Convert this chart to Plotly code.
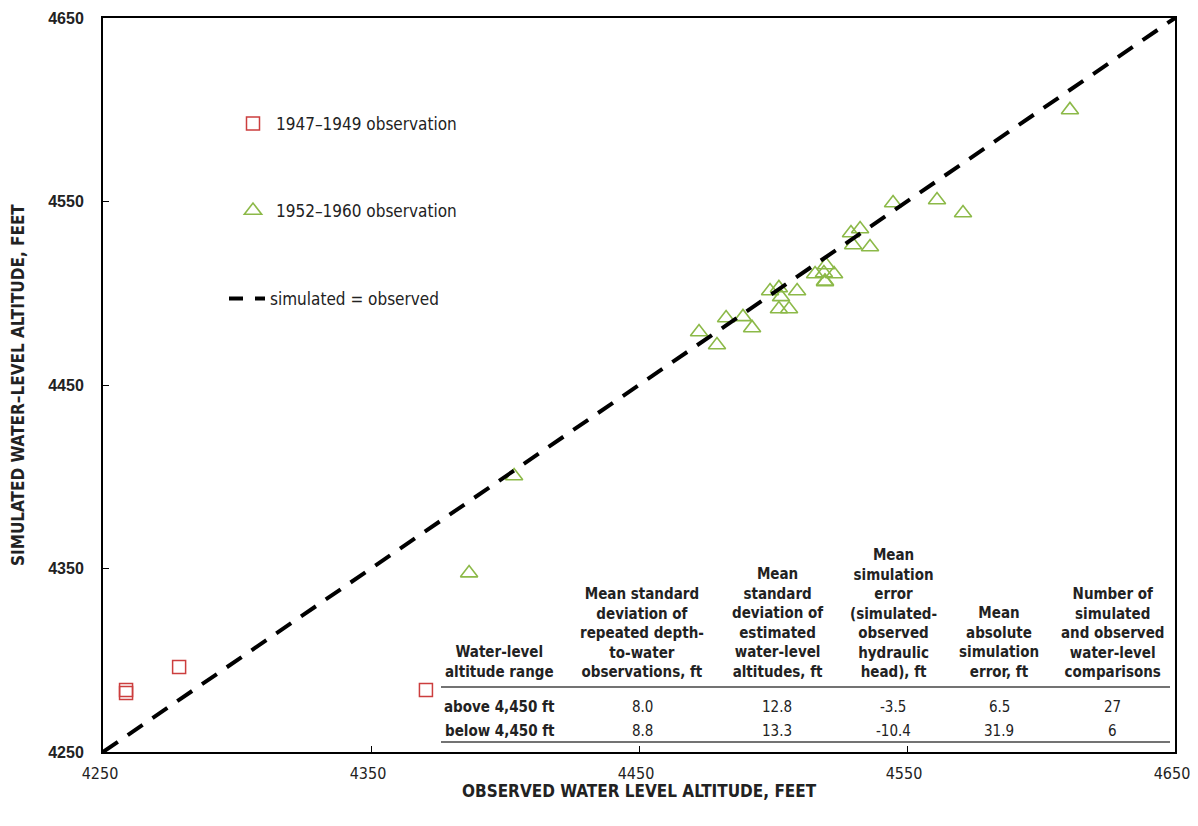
import plotly.graph_objects as go

# ---- data ----
obs_4749 = [4258.6, 4258.6, 4278.4, 4370.5]
sim_4749 = [4282.2, 4283.8, 4296.3, 4283.8]

obs_5260 = [4610.8, 4561.2, 4570.9, 4544.8, 4529.1, 4532.5, 4529.9, 4536.2,
            4519.8, 4515.7, 4519.0, 4522.8, 4519.4, 4498.9, 4502.2, 4503.0,
            4509.0, 4502.2, 4506.0, 4482.5, 4488.8, 4492.2, 4472.4, 4479.1,
            4403.4, 4386.6, 4519.4]
sim_5260 = [4599.9, 4550.8, 4543.7, 4549.2, 4532.8, 4535.0, 4526.3, 4525.2,
            4515.4, 4510.5, 4511.0, 4510.5, 4506.1, 4501.2, 4502.9, 4498.0,
            4501.2, 4491.4, 4491.4, 4486.5, 4487.1, 4481.1, 4478.9, 4471.8,
            4400.4, 4347.5, 4506.5]

one_to_one = [4250, 4650]
tick_vals = [4250, 4350, 4450, 4550, 4650]

table_headers = [
    "Water-level<br>altitude range",
    "Mean standard<br>deviation of<br>repeated depth-<br>to-water<br>observations, ft",
    "Mean<br>standard<br>deviation of<br>estimated<br>water-level<br>altitudes, ft",
    "Mean<br>simulation<br>error<br>(simulated-<br>observed<br>hydraulic<br>head), ft",
    "Mean<br>absolute<br>simulation<br>error, ft",
    "Number of<br>simulated<br>and observed<br>water-level<br>comparisons",
]
row_labels = ["above 4,450 ft", "below 4,450 ft"]
row_values = [["8.0", "12.8", "-3.5", "6.5", "27"],
              ["8.8", "13.3", "-10.4", "31.9", "6"]]

# ---- layout constants (pixels in the reference screenshot) ----
OFF = 8                      # the page body adds an 8px margin
W, H = 1198 - OFF, 826 - OFF
L, R, T, B = 103, 1175, 18, 752
NARROW = "Liberation Sans Narrow, Arial Narrow, DejaVu Sans Condensed, sans-serif"
ARIAL = "Liberation Sans, Arial, sans-serif"

def px(x):
    return (x - L) / (R - L)

def py(y):
    return (B - y) / (B - T)

RED = "rgb(204,62,62)"
GREEN = "rgb(140,185,72)"

fig = go.Figure()
fig.add_trace(go.Scatter(
    x=obs_4749, y=sim_4749, mode="markers", name="1947\u20131949 observation",
    marker=dict(symbol="square-open", size=13, color=RED, line=dict(width=1.5, color=RED)),
    legend="legend"))
fig.add_trace(go.Scatter(
    x=obs_5260, y=sim_5260, mode="markers", name="1952\u20131960 observation",
    marker=dict(symbol="triangle-up-open", size=15, color=GREEN, line=dict(width=1.6, color=GREEN)),
    legend="legend2"))
fig.add_trace(go.Scatter(
    x=one_to_one, y=one_to_one, mode="lines", name="simulated = observed",
    line=dict(color="black", width=4, dash="18px,12px"),
    showlegend=False))
# legend-only entry for the 1:1 line (shorter dash pattern, as in the key)
fig.add_trace(go.Scatter(
    x=[None], y=[None], mode="lines", name="simulated = observed",
    line=dict(color="black", width=4, dash="14px,12px"),
    legend="legend3"))

legend_common = dict(bgcolor="rgba(0,0,0,0)", borderwidth=0,
                     font=dict(family=NARROW, size=17, color="#222"),
                     xanchor="left", yanchor="middle", itemwidth=36)
annotations = []

# axis titles
annotations.append(dict(text="<b>OBSERVED WATER LEVEL ALTITUDE, FEET</b>", xref="paper", yref="paper",
                        x=px(639), y=py(791), showarrow=False,
                        font=dict(family=NARROW, size=17, color="#222"),
                        xanchor="center", yanchor="middle"))
annotations.append(dict(text="<b>SIMULATED WATER\u2013LEVEL ALTITUDE, FEET</b>", xref="paper", yref="paper",
                        x=px(18), y=py(385), showarrow=False, textangle=-90,
                        font=dict(family=NARROW, size=17, color="#222"),
                        xanchor="center", yanchor="middle"))

# table
col_x = [500, 642, 777, 893, 999, 1112]
for cx, head in zip(col_x, table_headers):
    annotations.append(dict(text="<b>" + head + "</b>", xref="paper", yref="paper",
                            x=px(cx), y=py(683), showarrow=False, align="center",
                            font=dict(family=NARROW, size=15, color="#222"),
                            xanchor="center", yanchor="bottom"))
row_y = [707, 731]
for ry, lab, vals in zip(row_y, row_labels, row_values):
    annotations.append(dict(text="<b>" + lab + "</b>", xref="paper", yref="paper",
                            x=px(col_x[0]), y=py(ry), showarrow=False,
                            font=dict(family=NARROW, size=15, color="#222"),
                            xanchor="center", yanchor="middle"))
    for cx, v in zip(col_x[1:], vals):
        annotations.append(dict(text=v, xref="paper", yref="paper",
                                x=px(cx), y=py(ry), showarrow=False,
                                font=dict(family=NARROW, size=15, color="#222"),
                                xanchor="center", yanchor="middle"))

shapes = [
    dict(type="line", xref="paper", yref="paper", x0=px(441), x1=px(1170), y0=py(687), y1=py(687),
         line=dict(color="#444", width=1.5)),
    dict(type="line", xref="paper", yref="paper", x0=px(441), x1=px(1170), y0=py(742), y1=py(742),
         line=dict(color="#444", width=1.5)),
]

fig.update_layout(
    width=W, height=H,
    margin=dict(l=L - OFF, r=1198 - R, t=T - OFF, b=826 - B, pad=0, autoexpand=False),
    paper_bgcolor="white", plot_bgcolor="white",
    showlegend=True,
    legend=dict(x=px(230), y=py(124), **legend_common),
    legend2=dict(x=px(230), y=py(211), **legend_common),
    legend3=dict(x=px(224), y=py(299), **legend_common),
    annotations=annotations,
    shapes=shapes,
)
fig.update_xaxes(range=[4250, 4650], tickvals=tick_vals, ticktext=[str(v) for v in tick_vals],
                 showgrid=False, zeroline=False, showline=True, linecolor="black", linewidth=2,
                 mirror=True, ticks="inside", ticklen=6, tickcolor="black", tickwidth=1,
                 automargin=False, ticklabelshift=-3,
                 tickfont=dict(family=NARROW, size=16, color="#222"), ticklabelstandoff=6)
fig.update_yaxes(range=[4250, 4650], tickvals=tick_vals, ticktext=[str(v) for v in tick_vals],
                 showgrid=False, zeroline=False, showline=True, linecolor="black", linewidth=2,
                 mirror=True, ticks="inside", ticklen=6, tickcolor="black", tickwidth=1,
                 automargin=False,
                 tickfont=dict(family=ARIAL, size=16, color="#222", weight="bold"), ticklabelstandoff=14)

fig.write_html("out.html")
